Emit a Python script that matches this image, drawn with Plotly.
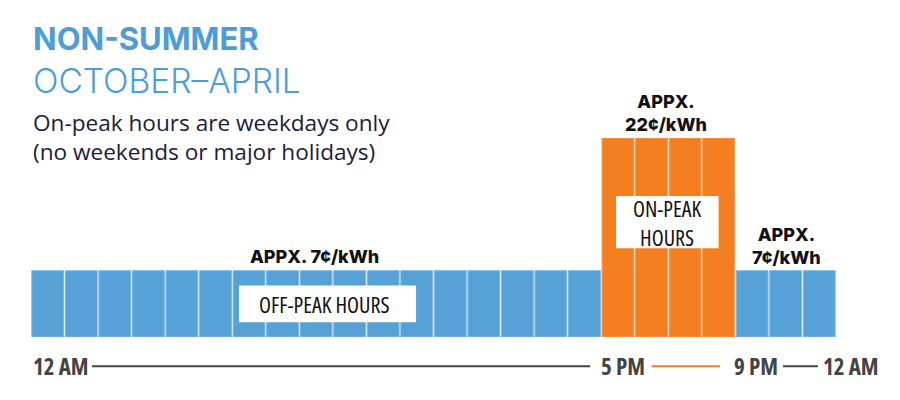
import plotly.graph_objects as go

# hourly blocks, midnight to midnight
hours = [0, 1, 2, 3, 4, 5, 6, 7, 8, 9, 10, 11, 12, 13, 14, 15, 16, 17, 18, 19, 20, 21, 22, 23]
period = [
    "off", "off", "off", "off", "off", "off", "off", "off", "off", "off", "off", "off",
    "off", "off", "off", "off", "off", "on", "on", "on", "on", "off", "off", "off",
]
# relative bar height (off-peak = 1)
level = [1, 1, 1, 1, 1, 1, 1, 1, 1, 1, 1, 1, 1, 1, 1, 1, 1, 3, 3, 3, 3, 1, 1, 1]

time_labels = ["12 AM", "5 PM", "9 PM", "12 AM"]
rate_labels = ["APPX. 7¢/kWh", "APPX.<br>22¢/kWh", "APPX.<br>7¢/kWh"]

BLUE = "#56A2D7"
BLUE_EDGE = "#7DB8E2"
ORANGE = "#F47E20"
ORANGE_EDGE = "#F89A4E"
HEAD_BLUE = "#4C9DD8"
NAVY = "#1B1B3A"
GREY = "#444444"

HEAD_FONT = "Inter, Lato, sans-serif"
BODY_FONT = "Open Sans, Lato, sans-serif"
NARROW_FONT = "Open Sans, Roboto, sans-serif"


def narrow(text):
    # squeeze the label the way the condensed face in the original does
    return f'<span style="font-stretch:75%">{text}</span>'


colors = [ORANGE if p == "on" else BLUE for p in period]
edges = [ORANGE_EDGE if p == "on" else BLUE_EDGE for p in period]

fig = go.Figure(
    go.Bar(
        x=hours,
        y=level,
        marker=dict(color=colors, line=dict(color=edges, width=1)),
        hoverinfo="skip",
    )
)

# rate labels above the blocks (the tall one sits above the y range -> paper)
rate_font = dict(family=HEAD_FONT, size=18, color="#111111", weight=800)
fig.add_annotation(x=7.95, y=1.22, text=rate_labels[0], showarrow=False,
                   yanchor="middle", font=rate_font)
fig.add_annotation(x=18.43, y=1.125, yref="paper", text=rate_labels[1], showarrow=False,
                   yanchor="middle", font=rate_font)
fig.add_annotation(x=22.01, y=1.365, text=rate_labels[2], showarrow=False,
                   yanchor="middle", font=rate_font)

# white label boxes sitting on the bars
for x0, x1, y0, y1 in [(5.70, 10.98, 0.222, 0.777), (16.94, 20.0, 1.338, 2.127)]:
    fig.add_shape(type="rect", x0=x0, x1=x1, y0=y0, y1=y1,
                  fillcolor="white", line=dict(width=0), layer="above")

box_font = dict(family=NARROW_FONT, size=22, color="#111111")
fig.add_annotation(x=8.24, y=0.495, text=narrow("OFF-PEAK HOURS"), showarrow=False,
                   yanchor="middle", font=box_font)
fig.add_annotation(x=18.47, y=1.72, text=narrow("ON-PEAK") + "<br>" + narrow("HOURS"),
                   showarrow=False, yanchor="middle", font=box_font)

# time axis row underneath
label_y = -0.1475
label_font = dict(family=NARROW_FONT, size=23, color=GREY, weight="bold")
for text, x, shift in zip(time_labels[:3], [-0.5, 16.5, 20.5], [0, -2, -3]):
    fig.add_annotation(
        x=x, xref="x", y=label_y, yref="paper", text=narrow(text), showarrow=False,
        xanchor="left", yanchor="middle", xshift=shift, font=label_font,
    )
fig.add_annotation(
    x=1.056, xref="paper", y=label_y, yref="paper", text=narrow(time_labels[3]),
    showarrow=False, xanchor="right", yanchor="middle", font=label_font,
)
for x0, x1, col in [(1.32, 16.17, GREY), (18.0, 20.04, ORANGE), (21.92, 22.96, GREY)]:
    fig.add_shape(
        type="line", xref="x", yref="paper", x0=x0, x1=x1, y0=label_y, y1=label_y,
        line=dict(color=col, width=2),
    )

# headline block
fig.add_annotation(
    x=0, xref="paper", y=1.5, yref="paper", text="NON-SUMMER", showarrow=False,
    xanchor="left", yanchor="middle",
    font=dict(family=HEAD_FONT, size=31, color=HEAD_BLUE, weight="bold"),
)
fig.add_annotation(
    x=0, xref="paper", y=1.285, yref="paper", text="OCTOBER–APRIL", showarrow=False,
    xanchor="left", yanchor="middle",
    font=dict(family=HEAD_FONT, size=33.5, color=HEAD_BLUE, weight=300),
)
fig.add_annotation(
    x=0, xref="paper", y=1.005, yref="paper",
    text="On-peak hours are weekdays only<br>(no weekends or major holidays)",
    showarrow=False, xanchor="left", yanchor="middle", align="left",
    font=dict(family=BODY_FONT, size=22.6, color=NAVY),
)

# the page body adds an 8px offset, so the figure is 8px smaller on each side
fig.update_layout(
    width=892,
    height=392,
    margin=dict(l=23, r=64, t=129.5, b=62.5),
    paper_bgcolor="white",
    plot_bgcolor="white",
    bargap=0.05,
    showlegend=False,
    xaxis=dict(range=[-0.5, 23.5], visible=False, fixedrange=True),
    yaxis=dict(range=[0, 3], visible=False, fixedrange=True),
)

fig.write_html("out.html")
